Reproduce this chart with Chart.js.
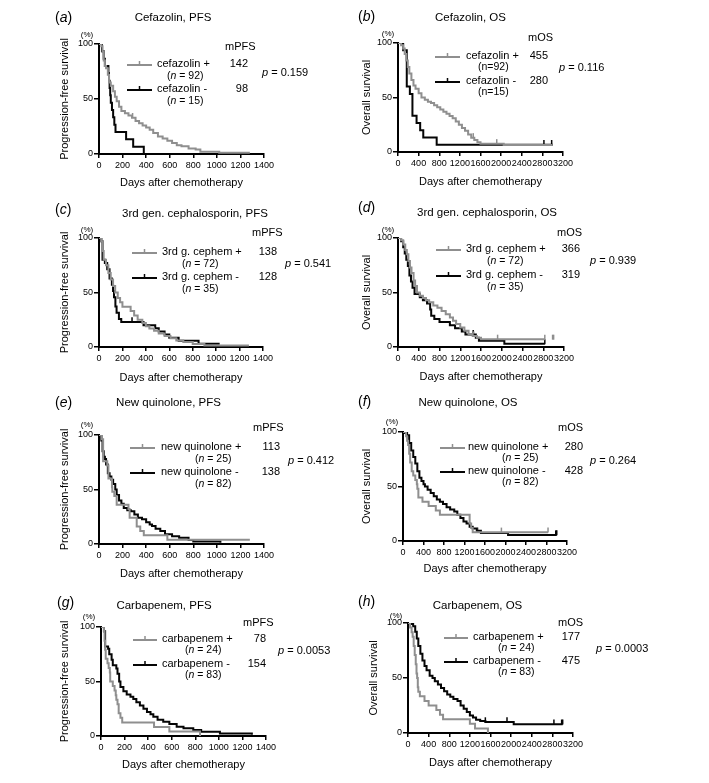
<!DOCTYPE html>
<html><head><meta charset="utf-8">
<script src="https://cdn.jsdelivr.net/npm/chart.js@4/dist/chart.umd.min.js"></script>
<style>
html,body{margin:0;padding:0;background:#fff;width:709px;height:783px;overflow:hidden;position:relative;}
canvas{position:absolute;}
</style></head><body>
<script>
// ---------------- DATA ----------------
const pfsXTicks = [0,200,400,600,800,1000,1200,1400];
const osXTicks = [0,400,800,1200,1600,2000,2400,2800,3200];
const yTicks = [0,50,100];

// (a) Cefazolin, PFS
const cefPfsPlusDays  = [0,20,30,40,50,60,75,85,100,120,135,150,170,190,220,250,280,310,340,370,400,430,460,500,540,580,620,660,700,760,820,860,1020,1280];
const cefPfsPlusSurv  = [100,98,93,85,80,78,72,65,62,57,52,48,43,39,37,35,33,30,28,26,24,22,19,16,14,12,10,8,7,5,4,2,1.1,1.1];
const cefPfsMinusDays = [0,25,40,50,80,85,90,95,100,110,120,130,140,230,290,380];
const cefPfsMinusSurv = [100,93.3,86.7,80,73.3,66.7,60,53.3,46.7,40,33.3,26.7,20,13.3,6.7,0];
const cefPfsPlusCens = [285];
const cefPfsMinusCens = [];

// (b) Cefazolin, OS
const cefOsPlusDays  = [0,60,100,130,160,190,220,260,300,340,400,455,520,580,640,700,760,820,880,940,1000,1060,1120,1180,1240,1300,1360,1420,1480,1540,1600,2050,3000];
const cefOsPlusSurv  = [100,98,95,90,84,78,72,66,61,58,54,50,48,46,45,43,41,39,37,35,33,31,28,25,22,19.5,16,13,11,9,7.5,6.5,6.5];
const cefOsMinusDays = [0,100,170,230,280,360,430,490,750,3000];
const cefOsMinusSurv = [100,93.3,60,53.3,33.3,26.7,20,13.3,6.7,6.7];
const cefOsPlusCens = [1460,1915];
const cefOsMinusCens = [2830,2980];

// (c) 3rd gen. cephalosporin, PFS
const cephPfsPlusDays  = [0,20,30,40,60,80,100,120,138,160,180,200,270,300,330,370,400,430,470,510,560,610,660,720,800,900,1280];
const cephPfsPlusSurv  = [100,97,88,80,75,68,62,56,50,45,41,37,33,29,25,22,19,17,15,12.5,10,8,6,4.5,2.8,1.4,1.4];
const cephPfsMinusDays = [0,20,30,50,70,90,110,120,128,140,150,170,190,380,480,510,560,600,680,850,1030];
const cephPfsMinusSurv = [100,97.1,80,77.1,71.4,62.9,57.1,51.4,45.7,37.1,31.4,25.7,22.9,20,17.1,14.3,11.4,8.6,5.7,2.9,2.9];
const cephPfsPlusCens = [];
const cephPfsMinusCens = [282];

// (d) 3rd gen. cephalosporin, OS
const cephOsPlusDays  = [0,60,100,140,170,200,230,260,300,330,366,420,480,540,600,680,760,840,920,1000,1060,1120,1200,1280,1360,1440,1520,1600,2830];
const cephOsPlusSurv  = [100,98,94,89,85,79,73,68,61,56,50,47,45,43,41,38,36,33,30,27,24,21,18,15,12,10,8.5,7,7];
const cephOsMinusDays = [0,60,100,130,160,190,220,250,280,319,420,480,560,620,640,700,800,1000,1100,1230,1300,1500,1560,2050,2830];
const cephOsMinusSurv = [100,97.1,91.4,85.7,80,74.3,65.7,60,54.3,48.6,45.7,42.9,40,34.3,28.6,25.7,22.9,20,17.1,14.3,11.4,8.6,5.7,2.9,2.9];
const cephOsPlusCens = [1460,1920,2830,2980,3000];
const cephOsMinusCens = [1450,2830];

// (e) New quinolone, PFS
const nqPfsPlusDays  = [0,25,35,70,80,110,113,130,150,250,260,320,350,380,580,1280];
const nqPfsPlusSurv  = [100,96,76,72,60,52,48,44,36,32,24,16,12,8,4,4];
const nqPfsMinusDays = [0,20,30,40,50,60,75,90,105,120,138,150,170,190,210,240,270,300,330,365,400,430,450,480,520,560,620,680,760,800,1030];
const nqPfsMinusSurv = [100,95,85,80,78,73,65,62,59,55,50,45,40,37,33,31,30,27,24,22.6,20,18,16.5,14,12,9,7,5.8,3.7,2.4,1.2];
const nqPfsPlusCens = [];
const nqPfsMinusCens = [];

// (f) New quinolone, OS
const nqOsPlusDays  = [0,60,80,100,120,140,170,200,240,270,280,300,380,500,640,720,1300,1330,1360,2830];
const nqOsPlusSurv  = [100,96,92,88,80,72,64,60,56,52,48,40,36,32,28,24,16,12,8,8];
const nqOsMinusDays = [0,40,80,120,160,200,240,280,320,360,400,428,480,540,600,660,720,780,850,920,1000,1060,1120,1180,1240,1300,1360,1440,1520,2050,3000];
const nqOsMinusSurv = [100,99,97,90,83,77,71,64,58,55,52,50,47,44,41,38,36,34,31,29,27,24,21,18,16,13,11.5,9.5,7.3,5.5,5.5];
const nqOsPlusCens = [1460,1920,2830];
const nqOsMinusCens = [2980,3000];

// (g) Carbapenem, PFS
const carbPfsPlusDays  = [0,25,30,35,40,55,65,75,78,100,115,125,130,140,150,165,180,450,580,840];
const carbPfsPlusSurv  = [100,95.8,87.5,79.2,70.8,66.7,62.5,58.3,50,45.8,41.7,37.5,33.3,29.2,20.8,16.7,12.5,8.3,4.2,0];
const carbPfsMinusDays = [0,25,35,60,70,90,100,130,140,154,165,190,218,250,274,300,330,360,390,420,444,480,528,580,642,700,783,850,1009,1280];
const carbPfsMinusSurv = [100,96,82,80,75,70,65,62,57,50,45,41,38,36,34,31,28,25,22,20,17.7,15,13,11,8.5,7,5.5,4,2.4,1.2];
const carbPfsPlusCens = [];
const carbPfsMinusCens = [];

// (h) Carbapenem, OS
const carbOsPlusDays  = [0,40,70,90,110,130,150,165,177,190,200,230,320,400,550,620,680,1200,1300,1550];
const carbOsPlusSurv  = [100,95.8,91.7,87.5,79.2,70.8,62.5,54.2,50,41.7,37.5,33.3,29.2,25,20.8,16.7,12.5,8.3,4.2,0];
const carbOsMinusDays = [0,60,100,140,170,200,240,280,320,360,420,475,520,580,640,700,760,820,880,960,1020,1080,1140,1200,1260,1320,1400,1500,2050,3000];
const carbOsMinusSurv = [100,99,97,92,86,79,72,66,61,57,52,50,47,44,41,38,35,33,31,29,25,22,19,16,14,12,11,10,8,8];
const carbOsPlusCens = [];
const carbOsMinusCens = [1500,1920,2830,2980,3000];

// Text
const panelLetters  = ['a','b','c','d','e','f','g','h'];
const panelTitles   = ['Cefazolin, PFS','Cefazolin, OS','3rd gen. cephalosporin, PFS','3rd gen. cephalosporin, OS','New quinolone, PFS','New quinolone, OS','Carbapenem, PFS','Carbapenem, OS'];
const yAxisTitles   = ['Progression-free survival','Overall survival','Progression-free survival','Overall survival','Progression-free survival','Overall survival','Progression-free survival','Overall survival'];
const xAxisTitle    = 'Days after chemotherapy';
const medianHeaders = ['mPFS','mOS','mPFS','mOS','mPFS','mOS','mPFS','mOS'];
const plusLabels    = ['cefazolin +','cefazolin +','3rd g. cephem +','3rd g. cephem +','new quinolone +','new quinolone +','carbapenem +','carbapenem +'];
const minusLabels   = ['cefazolin -','cefazolin -','3rd g. cephem -','3rd g. cephem -','new quinolone -','new quinolone -','carbapenem -','carbapenem -'];
const plusN         = ['(*n* = 92)','(n=92)','(*n* = 72)','(*n* = 72)','(*n* = 25)','(*n* = 25)','(*n* = 24)','(*n* = 24)'];
const minusN        = ['(*n* = 15)','(n=15)','(*n* = 35)','(*n* = 35)','(*n* = 82)','(*n* = 82)','(*n* = 83)','(*n* = 83)'];
const plusMedians   = ['142','455','138','366','113','280','78','177'];
const minusMedians  = ['98','280','128','319','138','428','154','475'];
const pValues       = ['0.159','0.116','0.541','0.939','0.412','0.264','0.0053','0.0003'];

// ---------------- LAYOUT ----------------
const FONT = '"Liberation Sans", Arial, Helvetica, sans-serif';
const GRAY = '#8f8f8f', BLACK = '#050505', TXT = '#000';

const series = [
  [cefPfsPlusDays,cefPfsPlusSurv,cefPfsMinusDays,cefPfsMinusSurv,cefPfsPlusCens,cefPfsMinusCens,pfsXTicks],
  [cefOsPlusDays,cefOsPlusSurv,cefOsMinusDays,cefOsMinusSurv,cefOsPlusCens,cefOsMinusCens,osXTicks],
  [cephPfsPlusDays,cephPfsPlusSurv,cephPfsMinusDays,cephPfsMinusSurv,cephPfsPlusCens,cephPfsMinusCens,pfsXTicks],
  [cephOsPlusDays,cephOsPlusSurv,cephOsMinusDays,cephOsMinusSurv,cephOsPlusCens,cephOsMinusCens,osXTicks],
  [nqPfsPlusDays,nqPfsPlusSurv,nqPfsMinusDays,nqPfsMinusSurv,nqPfsPlusCens,nqPfsMinusCens,pfsXTicks],
  [nqOsPlusDays,nqOsPlusSurv,nqOsMinusDays,nqOsMinusSurv,nqOsPlusCens,nqOsMinusCens,osXTicks],
  [carbPfsPlusDays,carbPfsPlusSurv,carbPfsMinusDays,carbPfsMinusSurv,carbPfsPlusCens,carbPfsMinusCens,pfsXTicks],
  [carbOsPlusDays,carbOsPlusSurv,carbOsMinusDays,carbOsMinusSurv,carbOsPlusCens,carbOsMinusCens,osXTicks]
];

// geometry in page pixels
const geos = [
  {cx:0,  cy:0,  cw:355,ch:192, L:99, R:264,T:44, B:154, ytx:65, xty:183, let:[55,18],  tit:[173,18],  pct:[87,35],  lx1:127,lx2:152,y1:65, y2:90, labX:157,nX:167,nDy:12, hd:[225,47], mr:248, p:[262,73]},
  {cx:355,cy:0,  cw:354,ch:192, L:398,R:563,T:43, B:152, ytx:367,xty:182, let:[358,17], tit:[470.5,18],pct:[388,34], lx1:435,lx2:460,y1:57, y2:82, labX:466,nX:478,nDy:11, hd:[528,38], mr:548, p:[559,68]},
  {cx:0,  cy:192,cw:355,ch:194, L:99, R:263,T:238,B:347, ytx:65, xty:378, let:[55,210], tit:[195,214], pct:[87,230], lx1:132,lx2:157,y1:253,y2:278,labX:162,nX:182,nDy:12, hd:[252,233],mr:277, p:[285,264]},
  {cx:355,cy:192,cw:354,ch:194, L:398,R:564,T:238,B:347, ytx:367,xty:377, let:[358,208],tit:[487,213], pct:[388,230],lx1:436,lx2:461,y1:250,y2:276,labX:466,nX:487,nDy:12, hd:[557,233],mr:580, p:[590,261]},
  {cx:0,  cy:386,cw:355,ch:196, L:99, R:264,T:435,B:544, ytx:65, xty:574, let:[55,403], tit:[168.5,403],pct:[87,425],lx1:130,lx2:155,y1:448,y2:473,labX:161,nX:195,nDy:12, hd:[253,428],mr:280, p:[288,461]},
  {cx:355,cy:386,cw:354,ch:196, L:403,R:567,T:432,B:541, ytx:367,xty:569, let:[358,402],tit:[468,403], pct:[392,422],lx1:440,lx2:465,y1:448,y2:472,labX:468,nX:502,nDy:11, hd:[558,428],mr:583, p:[590,461]},
  {cx:0,  cy:582,cw:355,ch:201, L:101,R:266,T:627,B:736, ytx:65, xty:765, let:[57,603], tit:[164,606], pct:[89,617], lx1:133,lx2:157,y1:640,y2:665,labX:162,nX:185,nDy:11, hd:[243,623],mr:266, p:[278,651]},
  {cx:355,cy:582,cw:354,ch:201, L:408,R:573,T:623,B:733, ytx:374,xty:763, let:[358,602],tit:[477.5,606],pct:[396,616],lx1:444,lx2:468,y1:638,y2:662,labX:473,nX:498,nDy:11, hd:[558,623],mr:580, p:[596,649]}
];

function rich(ctx, x, y, str, size, align) {
  const parts = str.split('*').map((t,i)=>[t, i%2===1]).filter(p=>p[0].length);
  const fonts = parts.map(p => (p[1]?'italic ':'') + size + 'px ' + FONT);
  let total = 0;
  parts.forEach((p,i)=>{ ctx.font = fonts[i]; total += ctx.measureText(p[0]).width; });
  let cx = align==='center' ? x - total/2 : align==='right' ? x - total : x;
  ctx.textAlign = 'left';
  parts.forEach((p,i)=>{ ctx.font = fonts[i]; ctx.fillText(p[0], cx, y); cx += ctx.measureText(p[0]).width; });
}

function stepAt(days, surv, t) {
  let v = surv[0];
  for (let k=0;k<days.length;k++) if (days[k] <= t) v = surv[k];
  return v;
}

const toXY = (t,s) => t.map((v,k)=>({x:v, y:s[k]}));

geos.forEach((g, i) => {
  const [pT,pS,mT,mS,pC,mC,xt] = series[i];
  const cv = document.createElement('canvas');
  cv.width = g.cw; cv.height = g.ch;
  cv.style.left = g.cx+'px'; cv.style.top = g.cy+'px';
  cv.style.width = g.cw+'px'; cv.style.height = g.ch+'px';
  document.body.appendChild(cv);

  const axFont = 11, lh = axFont*1.2;
  const yScaleLeft = g.ytx - lh/2;
  const yWidth = g.L - yScaleLeft;
  const xBottom = g.xty + lh/2;
  const xHeight = xBottom - g.B;
  const pad = {left: yScaleLeft - g.cx, right: g.cx + g.cw - g.R, top: g.T - g.cy, bottom: g.cy + g.ch - xBottom};

  const censorSet = (arr, days, surv, col) => ({
    data: arr.map(t => ({x:t, y: stepAt(days, surv, t) + 2})),
    showLine:false, pointStyle:'line', rotation:90, pointRadius:2.5, pointHoverRadius:2.5,
    pointBorderColor: col, pointBorderWidth: 1.5, borderColor: col, backgroundColor: col
  });

  const annot = {
    id:'annot'+i,
    afterDraw(chart) {
      const ctx = chart.ctx;
      ctx.save();
      ctx.translate(-g.cx, -g.cy);
      ctx.fillStyle = TXT; ctx.textBaseline = 'middle';
      rich(ctx, g.let[0], g.let[1], '(*'+panelLetters[i]+'*)', 14, 'left');
      rich(ctx, g.tit[0], g.tit[1], panelTitles[i], 11.5, 'center');
      rich(ctx, g.pct[0], g.pct[1], '(%)', 8, 'center');
      const rows = [[g.y1, GRAY, plusLabels[i], plusN[i], plusMedians[i]], [g.y2, BLACK, minusLabels[i], minusN[i], minusMedians[i]]];
      rows.forEach(([y,col,lab,nn,med])=>{
        ctx.strokeStyle = col; ctx.lineWidth = 2;
        ctx.beginPath(); ctx.moveTo(g.lx1, y); ctx.lineTo(g.lx2, y); ctx.stroke();
        const mx = (g.lx1+g.lx2)/2;
        ctx.lineWidth = 1.5; ctx.beginPath(); ctx.moveTo(mx, y); ctx.lineTo(mx, y-4); ctx.stroke();
        ctx.fillStyle = TXT;
        rich(ctx, g.labX, y-1, lab, 11, 'left');
        rich(ctx, g.nX, y-1+g.nDy, nn, 10.5, 'left');
        rich(ctx, g.mr, y-1, med, 11, 'right');
      });
      rich(ctx, g.hd[0], g.hd[1], medianHeaders[i], 11, 'left');
      rich(ctx, g.p[0], g.p[1], '*p* = ' + pValues[i], 11, 'left');
      ctx.restore();
    }
  };

  new Chart(cv, {
    type:'line',
    data:{ datasets:[
      {data:toXY(pT,pS), borderColor:GRAY, borderWidth:2, stepped:true, pointRadius:0, fill:false},
      {data:toXY(mT,mS), borderColor:BLACK, borderWidth:2, stepped:true, pointRadius:0, fill:false},
      censorSet(pC, pT, pS, GRAY),
      censorSet(mC, mT, mS, BLACK)
    ]},
    options:{
      responsive:false, animation:false, devicePixelRatio:1,
      layout:{padding:pad},
      plugins:{legend:{display:false}, tooltip:{enabled:false}, title:{display:false}},
      scales:{
        x:{ type:'linear', min:xt[0], max:xt[xt.length-1],
            afterBuildTicks:s=>{ s.ticks = xt.map(v=>({value:v})); },
            afterFit:s=>{ s.height = xHeight; },
            grid:{drawOnChartArea:false, drawTicks:true, tickLength:4, color:'#000', lineWidth:1.5},
            border:{display:true, color:'#000', width:2},
            ticks:{autoSkip:false, maxRotation:0, minRotation:0, padding:2, color:TXT, font:{family:FONT, size:9},
                   callback:v=>String(v)},
            title:{display:true, text:xAxisTitle, color:TXT, padding:0, font:{family:FONT, size:axFont}} },
        y:{ type:'linear', min:yTicks[0], max:yTicks[yTicks.length-1],
            afterBuildTicks:s=>{ s.ticks = yTicks.map(v=>({value:v})); },
            afterFit:s=>{ s.width = yWidth; },
            grid:{drawOnChartArea:false, drawTicks:true, tickLength:5, color:'#000', lineWidth:1.5},
            border:{display:true, color:'#000', width:2},
            ticks:{padding:1, color:TXT, font:{family:FONT, size:9}, callback:v=>String(v)},
            title:{display:true, text:yAxisTitles[i], color:TXT, padding:0, font:{family:FONT, size:axFont}} }
      }
    },
    plugins:[annot]
  });
});
</script>
</body></html>
